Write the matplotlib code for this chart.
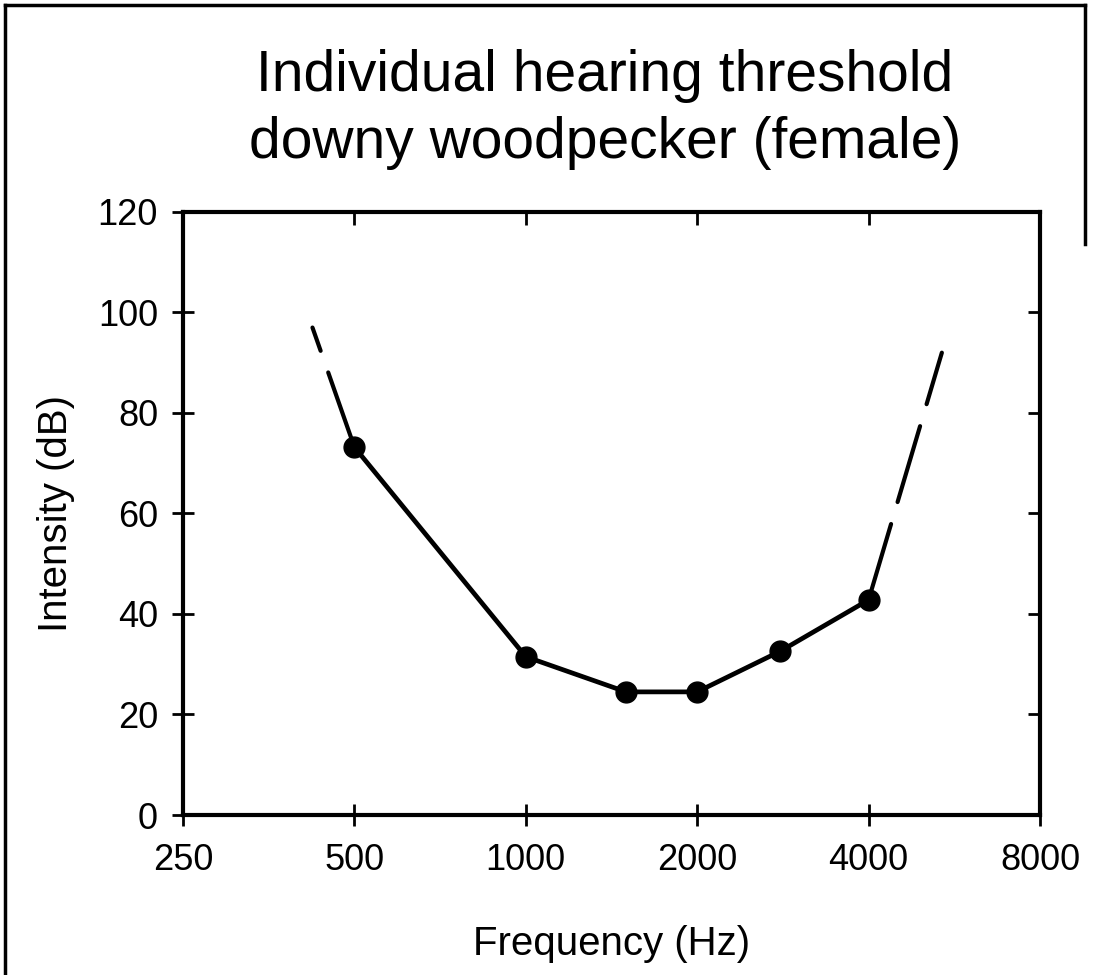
import matplotlib
matplotlib.use("Agg")
import matplotlib.pyplot as plt
from matplotlib.lines import Line2D
from matplotlib.ticker import NullLocator

# 측정 데이터 (Hz, dB)
freqs = [500, 1000, 1500, 2000, 2800, 4000]
thresholds = [73.2, 31.5, 24.5, 24.5, 32.6, 42.8]

# 양 끝 점선 (외삽)
low_ext_freq = [500, 422]
low_ext_db = [73.2, 97]
high_ext_freq = [4000, 5380]
high_ext_db = [42.8, 92]

xticks = [250, 500, 1000, 2000, 4000, 8000]
yticks = [0, 20, 40, 60, 80, 100, 120]

plt.rcParams['font.family'] = ['Liberation Sans', 'DejaVu Sans']

fig = plt.figure(figsize=(10.94, 9.75), dpi=100)
ax = fig.add_axes([0.1673, 0.1641, 0.7833, 0.6185])

ax.plot(freqs, thresholds, color='black', lw=3.4, marker='o', ms=15, zorder=3)
ax.plot(low_ext_freq, low_ext_db, color='black', lw=3, linestyle=(0, (19, 5.5)), dash_capstyle='round')
ax.plot(high_ext_freq, high_ext_db, color='black', lw=3, linestyle=(0, (19, 5.5)), dash_capstyle='round')

ax.set_xscale('log', base=2)
ax.set_xlim(250, 8000)
ax.set_ylim(0, 120)
ax.set_xticks(xticks)
ax.set_xticklabels([str(v) for v in xticks])
ax.xaxis.set_minor_locator(NullLocator())
ax.set_yticks(yticks)

for s in ax.spines.values():
    s.set_linewidth(3)

# 왼쪽/아래 눈금은 축을 가로지르고, 위/오른쪽은 안쪽
ax.tick_params(axis='both', which='major', direction='inout', length=16, width=2, labelsize=26)
ax.tick_params(axis='x', pad=12)
ax.tick_params(axis='y', pad=10)

ax2 = ax.secondary_xaxis('top')
ax2.set_xticks(xticks)
ax2.xaxis.set_minor_locator(NullLocator())
ax2.tick_params(direction='in', length=9, width=2, labeltop=False)
ax2.spines['top'].set_visible(False)
ax3 = ax.secondary_yaxis('right')
ax3.set_yticks(yticks)
ax3.yaxis.set_minor_locator(NullLocator())
ax3.tick_params(direction='in', length=9, width=2, labelright=False)
ax3.spines['right'].set_visible(False)

ax.set_xlabel('Frequency (Hz)', fontsize=29, labelpad=34)
ax.set_ylabel('Intensity (dB)', fontsize=29, labelpad=16)

fig.text(0.553, 0.888, 'Individual hearing threshold\ndowny woodpecker (female)',
         ha='center', va='center', fontsize=41, linespacing=1.3)

# 스캔 이미지 테두리
fig.add_artist(Line2D([0.005, 0.005], [0, 0.995], color='black', lw=2.5, transform=fig.transFigure))
fig.add_artist(Line2D([0.005, 0.992], [0.995, 0.995], color='black', lw=2.5, transform=fig.transFigure))
fig.add_artist(Line2D([0.992, 0.992], [0.995, 0.75], color='black', lw=2.5, transform=fig.transFigure))

fig.savefig('out.png', dpi=100, facecolor='white')
